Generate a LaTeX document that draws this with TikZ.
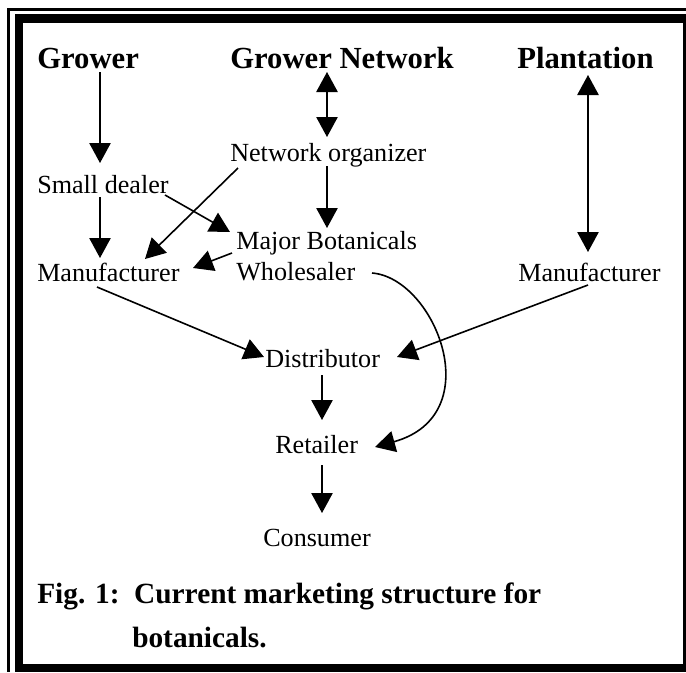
\documentclass[tikz,border=0pt]{standalone}
\usepackage{fontspec}
\setmainfont{Liberation Serif}
\usetikzlibrary{arrows.meta,calc}
\begin{document}
\begin{tikzpicture}[x=0.75pt,y=-0.75pt,
  lbl/.style={inner sep=0pt,anchor=base west,font=\fontsize{19.6}{22}\selectfont},
  head/.style={inner sep=0pt,anchor=base west,font=\fontsize{23}{27}\selectfont\bfseries},
  figcaption/.style={inner sep=0pt,anchor=base west,font=\fontsize{22}{26}\selectfont\bfseries},
  arr/.style={line width=1.2pt,-{Triangle[length=15pt,width=16pt]}},
  darr/.style={line width=1.2pt,{Triangle[length=15pt,width=16pt]}-{Triangle[length=15pt,width=16pt]}}]
\useasboundingbox (0,0) rectangle (686,672);
% frame: thin outer rules on left and top, heavy rules inside, thin rule on the right
\fill (7,8) rectangle (10,672);
\fill (7,8) rectangle (686,11);
\fill (15,14) rectangle (23,672);
\fill (15,14) rectangle (686,23);
\fill (15,664) rectangle (686,672);
\fill (683,14) rectangle (685.5,672);
% column headings
\node[head] (grower) at (37,68) {Grower};
\node[head] (gnet) at (230,68) {Grower Network};
\node[head] (plant) at (517,68) {Plantation};
% actors
\node[lbl] (sd) at (37,193) {Small dealer};
\node[lbl] (norg) at (230,161) {Network organizer};
\node[lbl] (major) at (236,249) {Major Botanicals};
\node[lbl] (whole) at (236,280) {Wholesaler};
\node[lbl] (manL) at (37,281) {Manufacturer};
\node[lbl] (manR) at (518,281) {Manufacturer};
\node[lbl] (dist) at (265,367) {Distributor};
\node[lbl] (ret) at (275,453) {Retailer};
\node[lbl] (cons) at (263,546) {Consumer};
% caption
\node[figcaption] (cap1) at (37,603) {Fig. 1:\ \ Current marketing structure for};
\node[figcaption] (cap2) at (132,647) {botanicals.};
% flows
\draw[arr] ($(grower.base west)+(63,4)$) -- ($(sd.base west)+(63,-30)$);
\draw[darr] ($(gnet.base west)+(97,4)$) -- ($(norg.base west)+(97,-24)$);
\draw[darr] ($(plant.base west)+(71,7)$) -- ($(manR.base west)+(70,-29)$);
\draw[arr] ($(sd.base west)+(63,4)$) -- ($(manL.base west)+(63,-23)$);
\draw[arr] ($(norg.base west)+(8,7)$) -- ($(manL.base west)+(108,-22)$);
\draw[arr] ($(sd.base west)+(128,2)$) -- ($(major.base west)+(-6,-17)$);
\draw[arr] ($(whole.base west)+(-4,-27)$) -- ($(manL.base west)+(156,-13)$);
\draw[arr] ($(norg.base west)+(97,5)$) -- ($(major.base west)+(91,-21)$);
\draw[arr] ($(manL.base west)+(60,6)$) -- ($(dist.base west)+(-1,-10)$);
\draw[arr] ($(manR.base west)+(70,4)$) -- ($(dist.base west)+(132,-10)$);
\draw[arr] ($(dist.base west)+(57,8)$) -- ($(ret.base west)+(47,-33)$);
\draw[arr] ($(whole.base west)+(136,-7)$) .. controls (435,278) and (490,415) .. ($(ret.base west)+(100,-6)$);
\draw[arr] ($(ret.base west)+(47,12)$) -- ($(cons.base west)+(59,-33)$);
\end{tikzpicture}
\end{document}
